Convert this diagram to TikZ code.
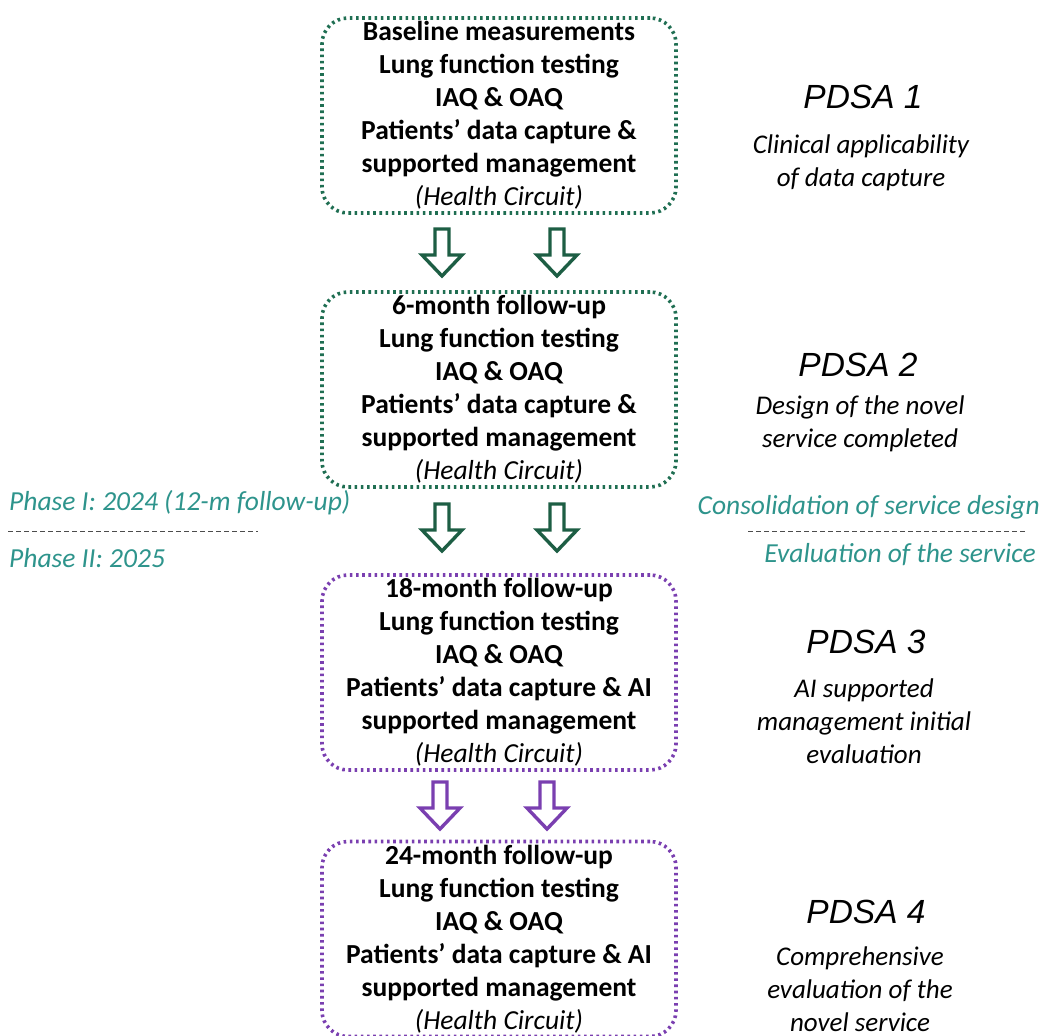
\documentclass[tikz,border=0pt]{standalone}
\usepackage{fontspec}
\setmainfont{Carlito}
\newfontfamily\arialfont{Liberation Sans}
\definecolor{boxgreen}{HTML}{1F6E52}
\definecolor{arrgreen}{HTML}{1D5E44}
\definecolor{boxpurple}{HTML}{7A3FB0}
\definecolor{tealtxt}{HTML}{2E948C}
\tikzset{
  stagebox/.style={draw, line width=3.6pt, dash pattern=on 2.6pt off 3.6pt, rounded corners=26pt,
    minimum width=354pt, minimum height=195pt, inner sep=0pt, align=center,
    font=\fontsize{27.5}{33}\selectfont\bfseries},
  pdsa/.style={font=\arialfont\itshape\fontsize{33.5}{38}\selectfont},
  pdsasub/.style={align=center, font=\fontsize{27}{33}\selectfont\itshape},
  tealnote/.style={text=tealtxt, font=\fontsize{27.5}{30}\selectfont\itshape, inner sep=0pt},
  phaseline/.style={draw=black!70, line width=0.8pt, dash pattern=on 5pt off 3pt},
  pics/blockarrow/.style={code={
    \draw[line width=3.4pt, line join=miter, #1] (-7,0) -- (7,0) -- (7,26) -- (20,26) -- (0,47) -- (-20,26) -- (-7,26) -- cycle;
  }}
}
\begin{document}
\begin{tikzpicture}[x=1pt,y=-1pt]
\useasboundingbox (0,0) rectangle (1042,1036);
% boxes
\node[stagebox, draw=boxgreen] (b1) at (499,115.5) {Baseline measurements\\Lung function testing\\IAQ \& OAQ\\Patients’ data capture \&\\supported management\\{\mdseries\itshape (Health Circuit)}};
\node[stagebox, draw=boxgreen] (b2) at (499,389.5) {6-month follow-up\\Lung function testing\\IAQ \& OAQ\\Patients’ data capture \&\\supported management\\{\mdseries\itshape (Health Circuit)}};
\node[stagebox, draw=boxpurple] (b3) at (499,672.5) {18-month follow-up\\Lung function testing\\IAQ \& OAQ\\Patients’ data capture \& AI\\supported management\\{\mdseries\itshape (Health Circuit)}};
\node[stagebox, draw=boxpurple] (b4) at (499,939) {24-month follow-up\\Lung function testing\\IAQ \& OAQ\\Patients’ data capture \& AI\\supported management\\{\mdseries\itshape (Health Circuit)}};
% block arrows
\pic at (442,229) {blockarrow=arrgreen};
\pic at (557,229) {blockarrow=arrgreen};
\pic at (442,504) {blockarrow=arrgreen};
\pic at (557,504) {blockarrow=arrgreen};
\pic at (440,782) {blockarrow=boxpurple};
\pic at (547,782) {blockarrow=boxpurple};
% right labels
\node[pdsa] (p1) at (863,97) {PDSA 1};
\node[pdsasub] (s1) at (861,163) {Clinical applicability\\of data capture};
\node[pdsa] (p2) at (858,365) {PDSA 2};
\node[pdsasub] (s2) at (860,424) {Design of the novel\\service completed};
\node[pdsa] (p3) at (866,642) {PDSA 3};
\node[pdsasub] (s3) at (864,721) {AI supported\\management initial\\evaluation};
\node[pdsa] (p4) at (866,912) {PDSA 4};
\node[pdsasub] (s4) at (860,989) {Comprehensive\\evaluation of the\\novel service};
% phase notes
\node[tealnote, anchor=west] (ph1) at (9,503) {Phase I: 2024 (12-m follow-up)};
\node[tealnote, anchor=west] (ph2) at (9,558) {Phase II: 2025};
\coordinate (l1) at (8,531);
\coordinate (l2) at (258,531);
\draw[phaseline] (l1) -- (l2);
\node[tealnote, anchor=east] (c1) at (1040,507) {Consolidation of service design};
\node[tealnote, anchor=east] (c2) at (1036,555) {Evaluation of the service};
\coordinate (r1) at (748,531);
\coordinate (r2) at (1025,531);
\draw[phaseline] (r1) -- (r2);
\end{tikzpicture}
\end{document}
